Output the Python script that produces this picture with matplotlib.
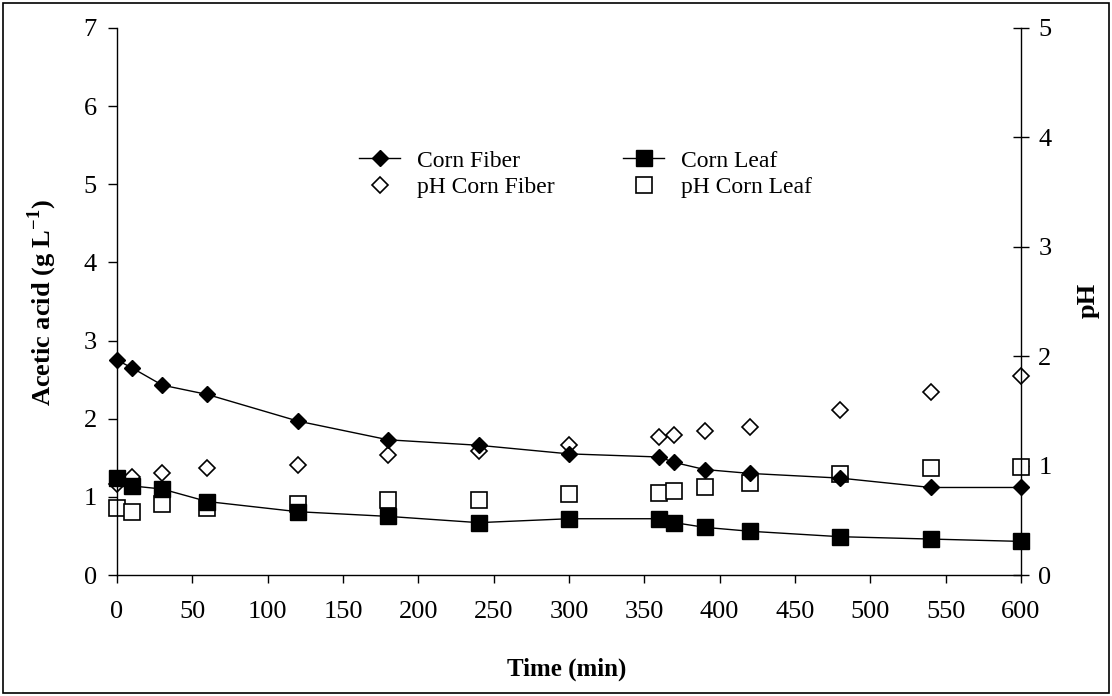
import matplotlib
matplotlib.use('Agg')
from matplotlib import pyplot as plt
from matplotlib.lines import Line2D
from matplotlib.patches import Rectangle

plt.rcParams['font.family'] = ['Liberation Serif', 'DejaVu Serif']
plt.rcParams['mathtext.fontset'] = 'custom'
plt.rcParams['mathtext.rm'] = 'Liberation Serif'
plt.rcParams['mathtext.bf'] = 'Liberation Serif:bold'

time = [0, 10, 30, 60, 120, 180, 240, 300, 360, 370, 390, 420, 480, 540, 600]
fiber_acid = [2.75, 2.65, 2.43, 2.31, 1.97, 1.73, 1.66, 1.55, 1.51, 1.44, 1.35, 1.30, 1.24, 1.12, 1.12]
leaf_acid = [1.24, 1.14, 1.10, 0.94, 0.81, 0.75, 0.67, 0.72, 0.72, 0.67, 0.61, 0.56, 0.49, 0.46, 0.43]
fiber_ph = [0.83, 0.90, 0.93, 0.98, 1.01, 1.10, 1.13, 1.19, 1.26, 1.28, 1.32, 1.35, 1.51, 1.67, 1.82]
leaf_ph = [0.61, 0.58, 0.65, 0.61, 0.65, 0.69, 0.69, 0.74, 0.75, 0.77, 0.80, 0.84, 0.92, 0.98, 0.99]

W, H = 1112, 696
fig = plt.figure(figsize=(W / 100, H / 100), dpi=100)
# axes box in pixels: x 117..1021, y 28..575
ax = fig.add_axes([117 / W, 1 - 575 / H, (1021 - 117) / W, (575 - 28) / H])
ax2 = ax.twinx()

tick_fs = 19
lab_fs = 19
leg_fs = 17

# pH on right axis (drawn behind acid data)
ax2.plot(time, fiber_ph, linestyle='none', marker='D', markersize=8.3,
         markerfacecolor='white', markeredgecolor='black', markeredgewidth=1.2,
         clip_on=False, zorder=2)
ax2.plot(time, leaf_ph, linestyle='none', marker='s', markersize=11,
         markerfacecolor='white', markeredgecolor='black', markeredgewidth=1.2,
         clip_on=False, zorder=2)
ax2.set_ylim(0, 5)
ax2.set_yticks(range(0, 6))

ax.set_zorder(ax2.get_zorder() + 1)
ax.patch.set_visible(False)
ax.plot(time, fiber_acid, color='black', linewidth=1, marker='D', markersize=8.5,
        clip_on=False)
ax.plot(time, leaf_acid, color='black', linewidth=1, marker='s', markersize=11.5,
        clip_on=False)
ax.set_xlim(0, 600)
ax.set_ylim(0, 7)
ax.set_xticks(range(0, 601, 50))
ax.set_yticks(range(0, 8))

for a in (ax, ax2):
    a.spines['top'].set_visible(False)
    for s in a.spines.values():
        s.set_linewidth(1)
ax.spines['right'].set_visible(False)
ax2.spines['left'].set_visible(False)
ax2.spines['bottom'].set_visible(False)

ax.tick_params(axis='y', direction='out', length=6.5, width=1, labelsize=tick_fs, pad=8)
ax.tick_params(axis='x', direction='out', length=6, width=1, labelsize=tick_fs, pad=13)
ax2.tick_params(axis='y', direction='inout', length=11, width=1, labelsize=tick_fs, pad=7)

fig.text(567 / W, 1 - 669 / H, 'Time (min)', fontsize=18, fontweight='bold',
         ha='center', va='center')
fig.text(42 / W, 1 - 303 / H, r'Acetic acid (g L$^{\mathbf{-1}}$)', fontsize=lab_fs,
         fontweight='bold', rotation=90, ha='center', va='center')
fig.text(1088 / W, 1 - 300 / H, 'pH', fontsize=lab_fs, fontweight='bold',
         rotation=90, ha='center', va='center')

handles = [
    Line2D([], [], color='black', linewidth=1, marker='D', markersize=8.5),
    Line2D([], [], linestyle='none', marker='D', markersize=8.3,
           markerfacecolor='white', markeredgecolor='black', markeredgewidth=1.2),
    Line2D([], [], color='black', linewidth=1, marker='s', markersize=11.5),
    Line2D([], [], linestyle='none', marker='s', markersize=11,
           markerfacecolor='white', markeredgecolor='black', markeredgewidth=1.2),
]
labels = ['Corn Fiber', 'pH Corn Fiber', 'Corn Leaf', 'pH Corn Leaf']
leg = ax.legend(handles, labels, ncol=2, frameon=False, fontsize=leg_fs,
                loc='upper left', bbox_to_anchor=(359 / W, 1 - 150 / H),
                bbox_transform=fig.transFigure, borderpad=0, borderaxespad=0,
                handlelength=1.75, handletextpad=0.7, columnspacing=2.9,
                labelspacing=0.2)

fig.patches.append(Rectangle((0.003, 0.004), 0.994, 0.992, transform=fig.transFigure,
                             fill=False, edgecolor='black', linewidth=1.2))

fig.savefig('out.png', dpi=100)
